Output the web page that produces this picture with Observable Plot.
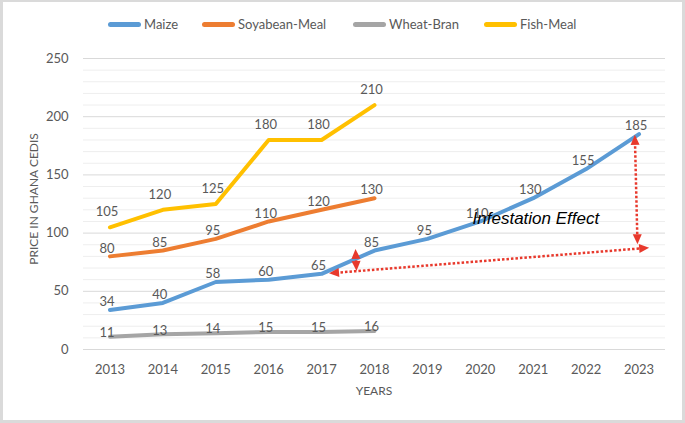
<!DOCTYPE html>
<html><head><meta charset="utf-8">
<script src="https://cdn.jsdelivr.net/npm/d3@7"></script>
<script src="https://cdn.jsdelivr.net/npm/@observablehq/plot@0.6"></script>
<style>
html,body{margin:0;padding:0;background:#fff;}
#wrap{position:relative;width:685px;height:423px;overflow:hidden;font-family:Lato,sans-serif;color:#595959;background:#fff;}
#frame{position:absolute;left:0;top:0;width:685px;height:423px;box-sizing:border-box;border:3px solid #dadada;border-top-width:2px;pointer-events:none;}
#chart{position:absolute;left:0;top:0;}
.item{position:absolute;top:15px;height:18px;display:flex;align-items:center;font-size:13px;color:#595959;white-space:nowrap;}
.sw{width:33px;height:5px;border-radius:3px;margin-right:3px;}
#xlab{position:absolute;left:83px;width:582px;top:383px;text-align:center;font-size:12px;}
#ylab{position:absolute;left:33px;top:199px;transform:translate(-50%,-50%) rotate(-90deg);font-size:12px;white-space:nowrap;}
</style>
</head><body>
<div id="wrap"><div id="chart"></div><div id="legend"></div><div id="xlab"></div><div id="ylab"></div><div id="frame"></div></div>
<script>
// ---- data ----
const years = [2013, 2014, 2015, 2016, 2017, 2018, 2019, 2020, 2021, 2022, 2023];
const seriesNames = ["Maize", "Soyabean-Meal", "Wheat-Bran", "Fish-Meal"];
const seriesColors = ["#5B9BD5", "#ED7D31", "#A5A5A5", "#FFC000"];
const maize = [34, 40, 58, 60, 65, 85, 95, 110, 130, 155, 185];
const soyabeanMeal = [80, 85, 95, 110, 120, 130];
const wheatBran = [11, 13, 14, 15, 15, 16];
const fishMeal = [105, 120, 125, 180, 180, 210];
const yTicks = [0, 50, 100, 150, 200, 250];
const yMinor = [10, 20, 30, 40, 60, 70, 80, 90, 110, 120, 130, 140, 160, 170, 180, 190, 210, 220, 230, 240];
const xTitle = "YEARS";
const yTitle = "PRICE IN GHANA CEDIS";
// annotation (red dotted double arrows) in data units
const arrowX1 = [2017.15, 2022.93, 2017.65];
const arrowY1 = [65, 184, 86];
const arrowX2 = [2023.2, 2022.98, 2017.67];
const arrowY2 = [87, 90, 67];
const noteText = "Infestation Effect";
const noteX = 2021.05;
const noteY = 112.5;

// ---- build table ----
const seriesValues = [maize, soyabeanMeal, wheatBran, fishMeal];
const labelDy = [-8, -8, -4, -15];
const rows = [];
seriesValues.forEach((vals, s) => vals.forEach((v, i) => rows.push({series: seriesNames[s], year: years[i], value: v, s})));

const red = "#E8392C";
const arrowMark = (index, scales) => {
  const g = d3.create("svg:g");
  const x = scales.x, y = scales.y;
  for (let i = 0; i < arrowX1.length; i++) {
    const x1 = x(arrowX1[i]), y1 = y(arrowY1[i]), x2 = x(arrowX2[i]), y2 = y(arrowY2[i]);
    const dx = x2 - x1, dy = y2 - y1, len = Math.hypot(dx, dy), ux = dx / len, uy = dy / len;
    const H = 10, W = 4.5;
    g.append("line")
      .attr("x1", x1 + ux * H * 0.7).attr("y1", y1 + uy * H * 0.7)
      .attr("x2", x2 - ux * H * 0.7).attr("y2", y2 - uy * H * 0.7)
      .attr("stroke", red).attr("stroke-width", 2.5).attr("stroke-dasharray", "2.5 2");
    for (const [tx, ty, sx, sy] of [[x2, y2, ux, uy], [x1, y1, -ux, -uy]]) {
      const bx = tx - sx * H, by = ty - sy * H, px = -sy * W, py = sx * W;
      g.append("path").attr("d", `M${tx},${ty}L${bx + px},${by + py}L${bx - px},${by - py}Z`).attr("fill", red);
    }
  }
  return g.node();
};

const marks = [
  Plot.ruleY(yMinor, {stroke: "#eeeeee", strokeWidth: 1}),
  Plot.ruleY(yTicks, {stroke: "#d9d9d9", strokeWidth: 1}),
];
seriesNames.forEach((name, s) => {
  const d = rows.filter(r => r.s === s);
  marks.push(Plot.line(d, {x: "year", y: "value", stroke: seriesColors[s], strokeWidth: 4, strokeLinecap: "round", strokeLinejoin: "round"}));
});
seriesNames.forEach((name, s) => {
  const d = rows.filter(r => r.s === s);
  marks.push(Plot.text(d, {x: "year", y: "value", text: d => String(d.value), dy: labelDy[s], dx: -3, fill: "#595959", fontSize: 13}));
});
marks.push(arrowMark);
marks.push(Plot.text([noteText], {x: () => noteX, y: () => noteY, text: d => d, fontStyle: "italic", fontFamily: "Liberation Sans, Arial, sans-serif", fontSize: 17, fill: "#000"}));

const chart = Plot.plot({
  width: 685, height: 423,
  marginLeft: 83, marginRight: 20, marginTop: 58, marginBottom: 74,
  style: {fontFamily: "Lato, sans-serif", fontSize: "13px", color: "#595959", background: "transparent", overflow: "visible"},
  x: {type: "linear", domain: [2012.5, 2023.5], ticks: years, tickFormat: d => String(d), tickSize: 0, tickPadding: 15, label: null},
  y: {domain: [0, 250], ticks: yTicks, tickSize: 0, tickPadding: 15, label: null},
  marks
});
document.getElementById("chart").appendChild(chart);

// legend
const legendLeft = [108, 202, 353, 484];
const lg = document.getElementById("legend");
seriesNames.forEach((n, i) => {
  const it = document.createElement("div");
  it.className = "item"; it.style.left = legendLeft[i] + "px";
  it.innerHTML = `<div class="sw" style="background:${seriesColors[i]}"></div><span>${n}</span>`;
  lg.appendChild(it);
});
document.getElementById("xlab").textContent = xTitle;
document.getElementById("ylab").textContent = yTitle;
</script>
</body></html>
